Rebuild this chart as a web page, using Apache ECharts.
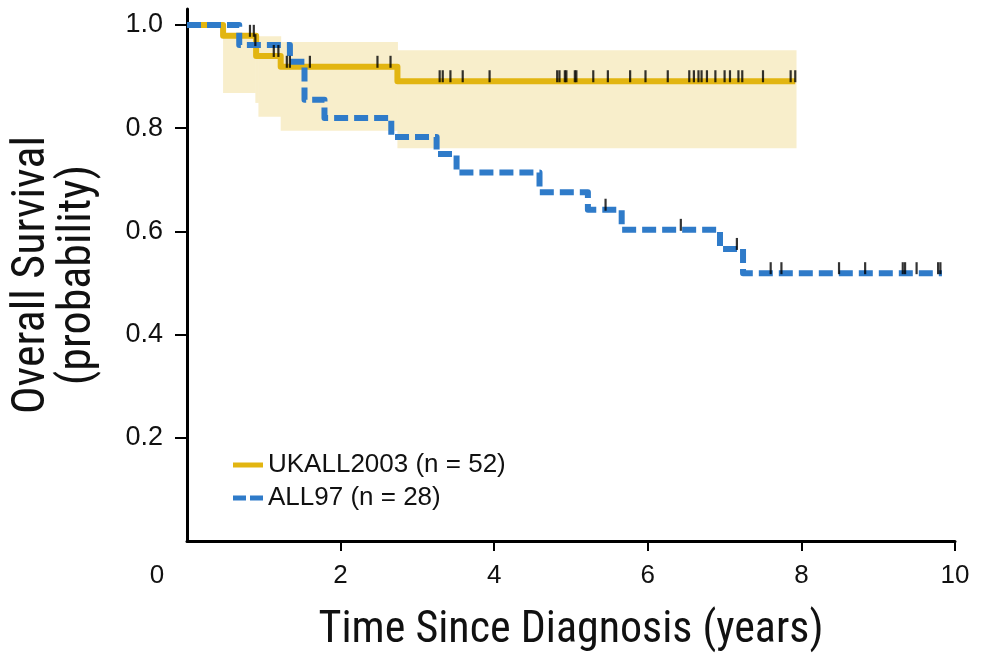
<!DOCTYPE html>
<html>
<head>
<meta charset="utf-8">
<script src="https://cdn.jsdelivr.net/npm/echarts@6/dist/echarts.min.js"></script>
<style>
  html, body { margin: 0; padding: 0; background: #fff; }
  #chart { width: 981px; height: 656px; }
</style>
</head>
<body>
<div id="chart"></div>
<script>
// Kaplan-Meier overall survival

// UKALL2003 (n = 52): step times and survival after each step
const ukTimes = [0, 0.47, 0.9, 1.22, 2.74, 7.92]
const ukSurv = [1.0, 0.979, 0.94, 0.919, 0.891, 0.891]
const ukCensored = [0.82, 0.87, 1.13, 1.19, 1.30, 1.34, 1.60, 2.48, 2.65,
  3.29, 3.33, 3.43, 3.59, 3.94, 4.82, 4.85, 4.92, 4.94, 5.05, 5.07, 5.29, 5.48,
  5.77, 5.97, 6.26, 6.54, 6.60, 6.66, 6.70, 6.77, 6.88, 7.0, 7.07, 7.18, 7.23,
  7.50, 7.86, 7.92]

// 95% confidence band of UKALL2003 (each value holds until the next time)
const ciTimes = [0.47, 0.89, 0.93, 1.22, 2.74, 7.93]
const ciLower = [0.868, 0.849, 0.822, 0.795, 0.761]
const ciUpper = [0.978, 0.978, 0.978, 0.967, 0.951]

// ALL97 (n = 28)
const allTimes = [0, 0.68, 1.34, 1.53, 1.79, 2.66, 3.25, 3.51, 4.59, 5.22, 5.66, 6.94, 7.24, 9.83]
const allSurv = [1.0, 0.961, 0.929, 0.855, 0.82, 0.783, 0.75, 0.714, 0.676, 0.642, 0.603, 0.566, 0.519, 0.519]
const allCensored = [0.89, 5.45, 6.43, 7.16, 7.60, 7.74, 8.49, 8.83, 9.32, 9.35, 9.50, 9.78, 9.81]

const xTicks = [0, 2, 4, 6, 8, 10]
const yTicks = [0.2, 0.4, 0.6, 0.8, 1.0]

const GOLD = '#E2B511'
const BLUE = '#2F7BC9'
const BAND = '#F8EECB'
const LABEL_FONT = "'Liberation Sans', Arial, sans-serif"
const TITLE_FONT = "'Liberation Sans Narrow', 'Roboto Condensed', 'DejaVu Sans Condensed', sans-serif"

const zip = (xs, ys) => xs.map((x, i) => [x, ys[i]])

// survival level of a step curve at time t (value right after any step at t)
function levelAt(times, surv, t) {
  let s = surv[0]
  for (let i = 0; i < times.length; i++) {
    if (times[i] <= t) s = surv[i]
  }
  return s
}

const censorStyle = {
  type: 'scatter',
  symbol: 'rect',
  symbolSize: [2.2, 12],
  symbolOffset: [0, -5],
  itemStyle: { color: '#000' },
  silent: true,
  z: 5,
}

// band pieces: [t0, t1, lower, upper]
const bandData = ciLower.map((lo, i) => [ciTimes[i], ciTimes[i + 1], lo, ciUpper[i]])

const chart = echarts.init(document.getElementById('chart'), null, { renderer: 'canvas' })

chart.setOption({
  animation: false,
  backgroundColor: '#fff',
  grid: { left: 187, right: 26, top: 9, bottom: 115, containLabel: false, outerBoundsMode: 'none' },
  legend: {
    orient: 'vertical',
    left: 228,
    top: 447,
    itemWidth: 30,
    itemHeight: 5,
    itemGap: 7,
    data: [
      { name: 'UKALL2003 (n = 52)', icon: 'rect' },
      { name: 'ALL97 (n = 28)', icon: 'path://M0,0h13v5h-13z M17,0h13v5h-13z' },
    ],
    textStyle: { fontFamily: LABEL_FONT, fontSize: 26, color: '#111' },
  },
  xAxis: {
    type: 'value',
    min: 0,
    max: 10,
    name: 'Time Since Diagnosis (years)',
    nameLocation: 'middle',
    nameGap: 68,
    nameTextStyle: { fontFamily: TITLE_FONT, fontSize: 44, color: '#111' },
    axisLine: { lineStyle: { color: '#000', width: 3 } },
    axisTick: { customValues: xTicks.filter(v => v > 0), length: 10, lineStyle: { color: '#000', width: 2 } },
    axisLabel: {
      customValues: xTicks,
      margin: 22,
      fontFamily: LABEL_FONT,
      fontSize: 26,
      color: '#111',
      // the 0 label sits left of the corner
      formatter: v => (v === 0 ? '{z|0}' : String(v)),
      rich: { z: { fontFamily: LABEL_FONT, fontSize: 26, color: '#111', padding: [0, 60, 0, 0] } },
    },
    splitLine: { show: false },
  },
  yAxis: {
    type: 'value',
    min: 0,
    max: 1.031,
    name: 'Overall Survival\n(probability)',
    nameLocation: 'middle',
    nameRotate: 90,
    nameGap: 86,
    nameTextStyle: { fontFamily: TITLE_FONT, fontSize: 46, lineHeight: 46, color: '#111' },
    axisLine: { show: true, lineStyle: { color: '#000', width: 3 } },
    axisTick: { show: true, customValues: yTicks, length: 12, lineStyle: { color: '#000', width: 2 } },
    axisLabel: {
      customValues: yTicks,
      margin: 24,
      fontFamily: LABEL_FONT,
      fontSize: 27,
      color: '#111',
      formatter: v => v.toFixed(1),
    },
    splitLine: { show: false },
  },
  series: [
    {
      name: 'ciBand',
      type: 'custom',
      data: bandData,
      encode: { x: [0, 1], y: [2, 3] },
      silent: true,
      z: 1,
      renderItem: (params, api) => {
        const p0 = api.coord([api.value(0), api.value(3)])
        const p1 = api.coord([api.value(1), api.value(2)])
        return {
          type: 'rect',
          shape: { x: p0[0], y: p0[1], width: p1[0] - p0[0] + 0.5, height: p1[1] - p0[1] },
          style: { fill: BAND },
        }
      },
    },
    {
      name: 'UKALL2003 (n = 52)',
      type: 'line',
      step: 'end',
      data: zip(ukTimes, ukSurv),
      symbol: 'none',
      color: GOLD,
      lineStyle: { color: GOLD, width: 6, join: 'round' },
      z: 3,
    },
    {
      name: 'ALL97 (n = 28)',
      type: 'line',
      step: 'end',
      data: zip(allTimes, allSurv),
      symbol: 'none',
      color: BLUE,
      lineStyle: { color: BLUE, width: 6, type: [14, 6], join: 'round' },
      z: 4,
    },
    Object.assign({ name: 'ukCens', data: ukCensored.map(t => [t, levelAt(ukTimes, ukSurv, t)]) }, censorStyle),
    Object.assign({ name: 'allCens', data: allCensored.map(t => [t, levelAt(allTimes, allSurv, t)]) }, censorStyle),
  ],
})
</script>
</body>
</html>
